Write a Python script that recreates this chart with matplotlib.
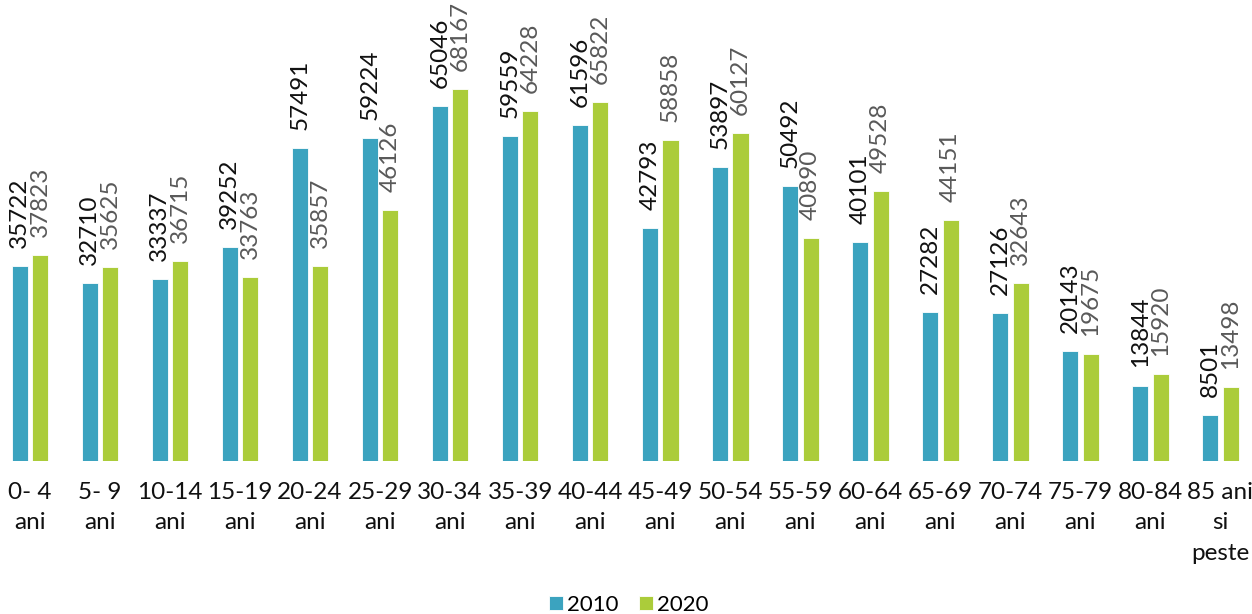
import numpy as np
import matplotlib.pyplot as plt

plt.rcParams['font.family'] = ['Lato', 'DejaVu Sans']

grupe = ['0- 4\nani', '5- 9\nani', '10-14\nani', '15-19\nani', '20-24\nani',
         '25-29\nani', '30-34\nani', '35-39\nani', '40-44\nani', '45-49\nani',
         '50-54\nani', '55-59\nani', '60-64\nani', '65-69\nani', '70-74\nani',
         '75-79\nani', '80-84\nani', '85 ani\nsi\npeste']
populatie_2010 = [35722, 32710, 33337, 39252, 57491, 59224, 65046, 59559, 61596,
                  42793, 53897, 50492, 40101, 27282, 27126, 20143, 13844, 8501]
populatie_2020 = [37823, 35625, 36715, 33763, 35857, 46126, 68167, 64228, 65822,
                  58858, 60127, 40890, 49528, 44151, 32643, 19675, 15920, 13498]

albastru = '#3ba3bf'
verde = '#abcc3a'
marime = 17.5

fig = plt.figure(figsize=(12.52, 6.14), dpi=100)
ax = fig.add_axes([0, 1 - 461 / 614, 1, 461 / 614])

x = np.arange(len(grupe))
latime = 0.229
dx = 0.146

ax.bar(x - dx, populatie_2010, latime, color=albastru, edgecolor='white',
       linewidth=0.6, label='2010')
ax.bar(x + dx, populatie_2020, latime, color=verde, edgecolor='white',
       linewidth=0.6, label='2020')

for xi, v in zip(x, populatie_2010):
    ax.annotate(str(v), (xi - dx, v), xytext=(0, 13), textcoords='offset points',
                rotation=90, ha='center', va='bottom', fontsize=marime, color='#111111')
for xi, v in zip(x, populatie_2020):
    ax.annotate(str(v), (xi + dx, v), xytext=(0, 13), textcoords='offset points',
                rotation=90, ha='center', va='bottom', fontsize=marime, color='#595959')

ax.set_xlim(-30 / 70, 17 + 31.5 / 70)
ax.set_ylim(0, 84587)
ax.set_xticks(x)
ax.set_xticklabels(grupe, fontsize=marime, color='#111111', linespacing=1.55)
ax.tick_params(axis='x', length=0, pad=15)
ax.set_yticks([])
for s in ax.spines.values():
    s.set_visible(False)

ax.legend(loc='center', bbox_to_anchor=(629 / 1252, -(605 - 461) / 461),
          ncol=2, frameon=False, fontsize=16, handlelength=0.62, handleheight=0.62,
          handletextpad=0.2, columnspacing=0.9)

fig.savefig('out.png', dpi=100)
